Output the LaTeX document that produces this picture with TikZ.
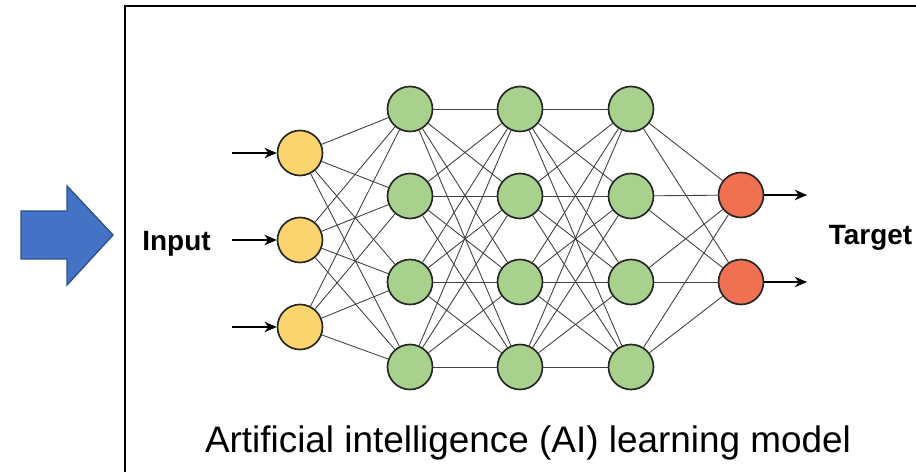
\documentclass[tikz,border=0pt]{standalone}
\usepackage{fontspec}
\setmainfont{Liberation Sans}
\usepackage{xcolor}
\usepackage{tikz}
\usetikzlibrary{arrows.meta}

\definecolor{inyellow}{HTML}{F9D46F}
\definecolor{hidgreen}{HTML}{A9D18E}
\definecolor{outred}{HTML}{EF7152}
\definecolor{arrowblue}{HTML}{4472C4}
\definecolor{arrowedge}{HTML}{2F528F}

\begin{document}
\begin{tikzpicture}[
  x=0.02cm, y=-0.02cm,
  neuron/.style={draw=black!85,circle,line width=0.95pt,minimum size=0.9cm,inner sep=0pt},
  inp/.style={neuron,fill=inyellow},
  hid/.style={neuron,fill=hidgreen},
  outp/.style={neuron,fill=outred},
  link/.style={black!75,line width=0.5pt},
  arr/.style={-{Stealth[length=7pt,width=6pt]},line width=0.7pt},
  lbl/.style={font=\fontsize{15.9}{18}\selectfont\bfseries,anchor=base}
]
  \useasboundingbox (0,0) rectangle (916,472);
  % frame and big arrow
  \draw[line width=1.2pt] (125,6) rectangle (940,490);
  \draw[fill=arrowblue,draw=arrowedge,line width=0.8pt]
    (21,211) -- (67,211) -- (67,186) -- (113,235) -- (67,285) -- (67,259) -- (21,259) -- cycle;

  % layers
  \foreach \i/\y in {1/153,2/240,3/327}
    \node[inp] (i\i) at (300,\y) {};
  \foreach \l/\x in {1/410,2/520,3/631}
    \foreach \j/\y in {1/109,2/196,3/282,4/367}
      \node[hid] (h\l\j) at (\x,\y) {};
  \foreach \k/\y in {1/195,2/282}
    \node[outp] (o\k) at (741,\y) {};

  % connections
  \foreach \i in {1,2,3}
    \foreach \j in {1,...,4}
      \draw[link] (i\i) -- (h1\j);
  \foreach \l/\m in {1/2,2/3}
    \foreach \j in {1,...,4}
      \foreach \k in {1,...,4}
        \draw[link] (h\l\j) -- (h\m\k);
  \foreach \j in {1,...,4}
    \foreach \k in {1,2}
      \draw[link] (h3\j) -- (o\k);

  % in and out arrows
  \foreach \i/\y in {1/153,2/240,3/327}{
    \coordinate (in\i) at (232,\y);
    \draw[arr] (in\i) -- (i\i);
  }
  \foreach \k/\y in {1/195,2/282}{
    \coordinate (out\k) at (807,\y);
    \draw[arr] (o\k) -- (out\k);
  }

  \node[lbl] (input) at (176.5,251) {Input};
  \node[lbl] (target) at (870.5,245) {Target};
  \node[font=\fontsize{21}{25}\selectfont,anchor=base] (title) at (528,453) {Artificial intelligence (AI) learning model};
\end{tikzpicture}
\end{document}
